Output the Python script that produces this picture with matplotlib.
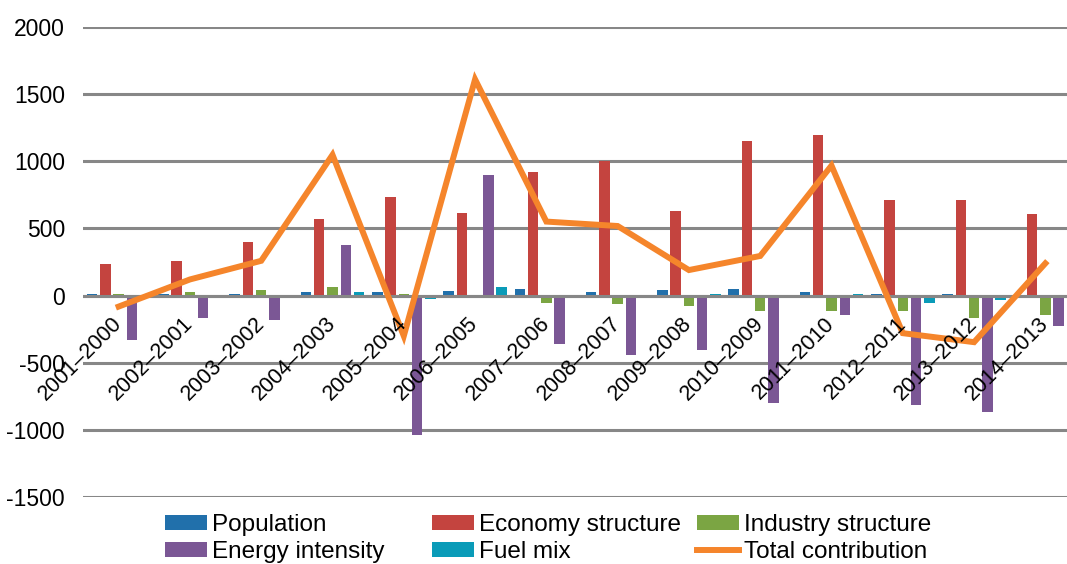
import matplotlib.pyplot as plt
import numpy as np

categories = ['2001–2000', '2002–2001', '2003–2002', '2004–2003', '2005–2004',
              '2006–2005', '2007–2006', '2008–2007', '2009–2008', '2010–2009',
              '2011–2010', '2012–2011', '2013–2012', '2014–2013']
population = [10, 8, 15, 30, 28, 37, 52, 27, 40, 52, 27, 12, 12, 3]
economy = [235, 257, 401, 571, 735, 618, 920, 1004, 628, 1151, 1196, 713, 713, 604]
industry = [10, 28, 43, 65, 8, 0, -55, -60, -80, -117, -117, -117, -165, -143]
energy = [-331, -169, -182, 379, -1041, 900, -358, -440, -402, -800, -144, -818, -868, -224]
fuel = [0, 0, 0, 30, -25, 62, 0, -5, 13, 0, 12, -57, -32, -5]
total = [-82, 120, 259, 1048, -301, 1610, 551, 518, 190, 295, 968, -280, -347, 240]

names = ['Population', 'Economy structure', 'Industry structure', 'Energy intensity', 'Fuel mix']
colors = ['#2170AB', '#C4443F', '#7BA543', '#7B5795', '#0A9BB8']
series = [population, economy, industry, energy, fuel]

plt.rcParams['font.family'] = ['Liberation Sans', 'DejaVu Sans']

fig = plt.figure(figsize=(10.67, 5.64), dpi=100)
ax = fig.add_axes([83 / 1067, 1 - 497 / 564, 998 / 1067, 470 / 564])

x = np.arange(len(categories))
pitch = 0.186
width = 0.147
bars = []
for k, (vals, c) in enumerate(zip(series, colors)):
    b = ax.bar(x + (k - 2) * pitch, vals, width, color=c, zorder=3)
    bars.append(b)
line, = ax.plot(x, total, color='#F5852B', lw=4.3, zorder=5, solid_joinstyle='miter')

ax.set_xlim(-0.5, len(categories) - 0.5)
ax.set_ylim(-1500, 2000)
ax.set_yticks(range(-1500, 2001, 500))
ax.set_yticklabels([str(v) for v in range(-1500, 2001, 500)], fontsize=16.5)
ax.tick_params(axis='y', length=0, pad=13)
ax.set_xticks([])
for s in ax.spines.values():
    s.set_visible(False)
ax.grid(axis='y', color='#878787', lw=2.2, zorder=1)
ax.axhline(0, color='#878787', lw=2.2, zorder=4)

# category labels sit under the zero line, rotated like Excel does it
for i, lab in enumerate(categories):
    ax.annotate(lab, (i, 0), xytext=(0, -18), textcoords='offset points',
                rotation=45, rotation_mode='anchor', ha='right', va='center',
                fontsize=15.5, zorder=6)

handles = bars + [line]
labels = names + ['Total contribution']
cols = [(165, [0, 3]), (432, [1, 4]), (697, [2, 5])]
for xpix, idx in cols:
    leg = fig.legend([handles[j] for j in idx], [labels[j] for j in idx],
                     loc='upper left', bbox_to_anchor=(xpix / 1067, 1 - 514 / 564),
                     frameon=False, fontsize=17.5, borderpad=0, borderaxespad=0,
                     handlelength=1.73, handleheight=0.57, handletextpad=0.2,
                     labelspacing=0.22)

fig.savefig('out.png', dpi=100)
